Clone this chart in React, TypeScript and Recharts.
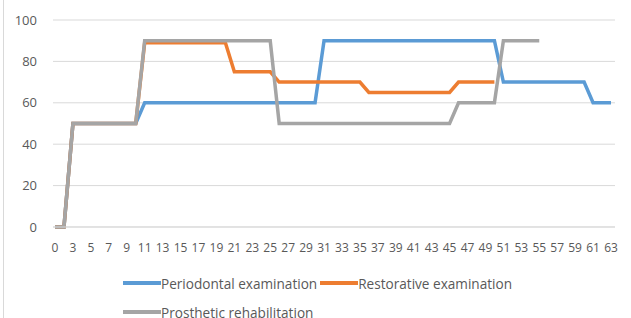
import { LineChart, Line, XAxis, YAxis, CartesianGrid } from 'recharts';

// x categories: 0, then 2..63 (Excel shows every other one)
const categories = [0, 2, 3, 4, 5, 6, 7, 8, 9, 10, 11, 12, 13, 14, 15, 16, 17, 18, 19, 20,
  21, 22, 23, 24, 25, 26, 27, 28, 29, 30, 31, 32, 33, 34, 35, 36, 37, 38, 39, 40,
  41, 42, 43, 44, 45, 46, 47, 48, 49, 50, 51, 52, 53, 54, 55, 56, 57, 58, 59, 60,
  61, 62, 63];

const periodontal = [0, 0, 50, 50, 50, 50, 50, 50, 50, 50, 60, 60, 60, 60, 60, 60, 60, 60, 60, 60,
  60, 60, 60, 60, 60, 60, 60, 60, 60, 60, 90, 90, 90, 90, 90, 90, 90, 90, 90, 90,
  90, 90, 90, 90, 90, 90, 90, 90, 90, 90, 70, 70, 70, 70, 70, 70, 70, 70, 70, 70,
  60, 60, 60];

const restorative: (number | null)[] = [0, 0, 50, 50, 50, 50, 50, 50, 50, 50, 89, 89, 89, 89, 89, 89, 89, 89, 89, 89,
  75, 75, 75, 75, 75, 70, 70, 70, 70, 70, 70, 70, 70, 70, 70, 65, 65, 65, 65, 65,
  65, 65, 65, 65, 65, 70, 70, 70, 70, 70];

const prosthetic: (number | null)[] = [0, 0, 50, 50, 50, 50, 50, 50, 50, 50, 90, 90, 90, 90, 90, 90, 90, 90, 90, 90,
  90, 90, 90, 90, 90, 50, 50, 50, 50, 50, 50, 50, 50, 50, 50, 50, 50, 50, 50, 50,
  50, 50, 50, 50, 50, 60, 60, 60, 60, 60, 90, 90, 90, 90, 90];

const yTicks = [0, 20, 40, 60, 80, 100];

const series = [
  { key: 'periodontal', name: 'Periodontal examination', color: '#5B9BD5' },
  { key: 'restorative', name: 'Restorative examination', color: '#ED7D31' },
  { key: 'prosthetic', name: 'Prosthetic rehabilitation', color: '#A5A5A5' },
];

const data = categories.map((c, i) => ({
  cat: String(c),
  periodontal: periodontal[i] ?? null,
  restorative: restorative[i] ?? null,
  prosthetic: prosthetic[i] ?? null,
}));

const font = '"Open Sans", "Noto Sans", sans-serif';

function ChartLegend() {
  return (
    <div style={{
      position: 'absolute', left: 123, top: 274, width: 430,
      display: 'flex', flexWrap: 'wrap', rowGap: 11, columnGap: 3,
      fontFamily: font, fontSize: 13.6, color: '#595959',
    }}>
      {series.map(s => (
        <div key={s.key} style={{ display: 'flex', alignItems: 'center', height: 18 }}>
          <span style={{ display: 'inline-block', width: 38, height: 4, background: s.color }} />
          <span>{s.name}</span>
        </div>
      ))}
    </div>
  );
}

export default function App() {
  return (
    <div style={{ position: 'absolute', left: 0, top: 0, width: 631, height: 318, background: '#fff', overflow: 'hidden' }}>
      <div style={{ position: 'absolute', left: 3, top: 0, width: 1, height: 318, background: '#d9d9d9' }} />
      <LineChart width={631} height={318} data={data}
        margin={{ top: 20, right: 16, bottom: 61, left: 8 }}>
        <CartesianGrid vertical={false} stroke="#d9d9d9" strokeWidth={1} />
        <XAxis dataKey="cat" interval={1} tickLine={false} axisLine={{ stroke: '#d9d9d9' }}
          height={30} padding={{ left: 2, right: 4 }}
          tick={{ fontSize: 12, fill: '#595959', fontFamily: font }} tickMargin={10} />
        <YAxis domain={[0, 100]} ticks={yTicks} width={45} axisLine={false} tickLine={false}
          tick={{ fontSize: 13, fill: '#595959', fontFamily: font }} tickMargin={10} />
        {series.map(s => (
          <Line key={s.key} dataKey={s.key} name={s.name} type="linear" stroke={s.color}
            strokeWidth={3.5} dot={false} activeDot={false} isAnimationActive={false} />
        ))}
      </LineChart>
      <ChartLegend />
    </div>
  );
}
